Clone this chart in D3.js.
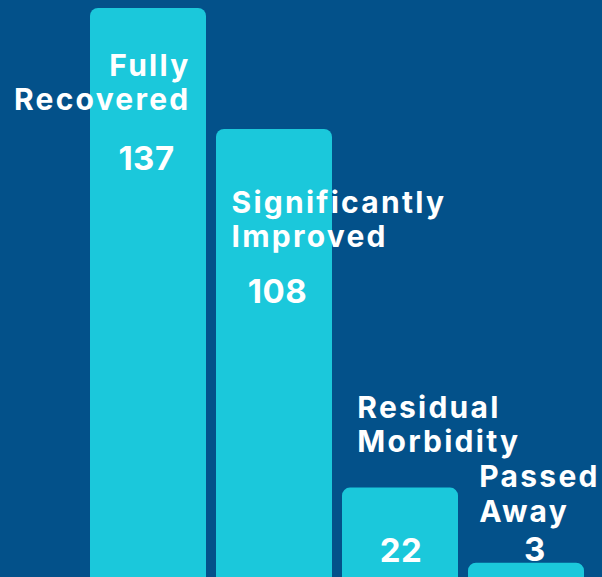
<!DOCTYPE html>
<html>
<head>
<meta charset="utf-8">
<script src="https://cdn.jsdelivr.net/npm/d3@7"></script>
<style>
  html, body { margin: 0; padding: 0; background: #03518A; }
  svg { display: block; }
  text { font-family: Inter, "Open Sans", sans-serif; font-weight: 700; fill: #ffffff; }
</style>
</head>
<body>
<svg id="chart"></svg>
<script>
// data
const categories = ["Fully Recovered", "Significantly Improved", "Residual Morbidity", "Passed Away"];
const counts = [137, 108, 22, 3];

// label placement, relative to each bar (x from bar left, y from bar top)
const nameAnchor = ["end", "start", "start", "start"];
const nameDx = [100.5, 15.5, 15.3, 11.3];
const nameDy = [68, 84, -70, -75.5];
const valueDx = [56.5, 61.5, 59, 67];
const valueDy = [161.5, 174.5, 74, -1.7];

const width = 602,
      height = 577;

const svg = d3.select('#chart')
    .attr('width', width)
    .attr('height', height);

svg.append('rect')
    .attr('width', width)
    .attr('height', height)
    .attr('fill', '#03518A');

const x = d3.scaleBand()
    .domain(categories)
    .range([85, 589])
    .paddingInner(10 / 126)
    .paddingOuter(5 / 126);

const y = d3.scaleLinear()
    .domain([0, 137])
    .range([579.3, 8]);

const minBar = 16.6; // tiny bars still get a visible cap
const barTop = v => Math.min(y(v), y(0) - minBar);

const data = categories.map((c, i) => ({ name: c, value: counts[i], i: i }));

const g = svg.selectAll('g.bar')
    .data(data)
    .enter().append('g')
    .attr('class', 'bar')
    .attr('transform', d => `translate(${x(d.name)}, ${barTop(d.value)})`);

// bottom runs off the page so only the top corners show as rounded
g.append('rect')
    .attr('width', x.bandwidth())
    .attr('height', d => height - barTop(d.value) + 20)
    .attr('rx', 8)
    .attr('fill', '#1BC8DB');

const nameText = g.append('text')
    .attr('text-anchor', d => nameAnchor[d.i])
    .attr('font-size', 30)
    .attr('letter-spacing', 2.25)
    .attr('x', d => nameDx[d.i])
    .attr('y', d => nameDy[d.i]);

nameText.selectAll('tspan')
    .data(d => d.name.split(' ').map(w => ({ w: w, i: d.i })))
    .enter().append('tspan')
    .attr('x', d => nameDx[d.i])
    .attr('dy', (d, j) => j === 0 ? 0 : 34.3)
    .text(d => d.w);

g.append('text')
    .attr('text-anchor', 'middle')
    .attr('font-size', 33)
    .attr('letter-spacing', 0.5)
    .attr('x', d => valueDx[d.i])
    .attr('y', d => valueDy[d.i])
    .text(d => d.value);
</script>
</body>
</html>
